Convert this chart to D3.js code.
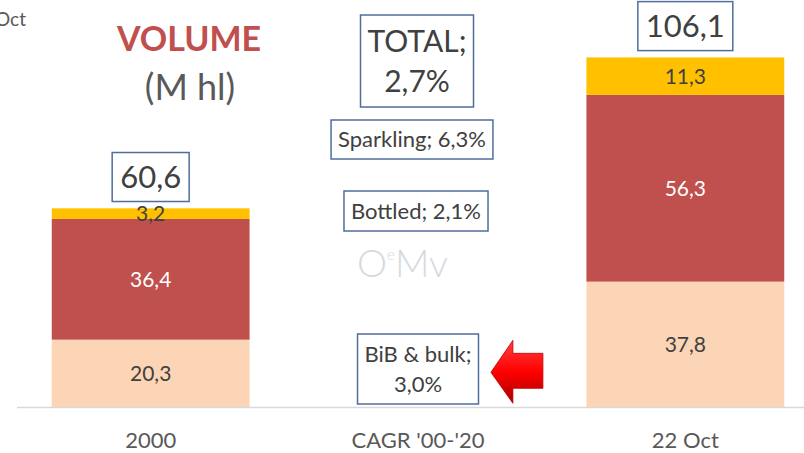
<!DOCTYPE html>
<html>
<head>
<meta charset="utf-8">
<script src="https://cdn.jsdelivr.net/npm/d3@7"></script>
<style>
  body { margin: 0; background: #fff; }
  svg { font-family: Lato, "Open Sans", sans-serif; display: block; }
  .x-axis path { stroke: #d9d9d9; stroke-width: 1.5; }
  .x-axis text { font-size: 22px; fill: #595959; font-family: Lato, sans-serif; }
</style>
</head>
<body>
<div id="chart"></div>
<script>
// values
const categories = ["2000", "CAGR '00-'20", "22 Oct"];
const bulk = [20.3, null, 37.8];       // BiB & bulk
const bottled = [36.4, null, 56.3];
const sparkling = [3.2, null, 11.3];
const totals = [60.6, null, 106.1];
const totalLabels = ["60,6", "", "106,1"];
const segLabels = {
  bulk: ["20,3", "", "37,8"],
  bottled: ["36,4", "", "56,3"],
  sparkling: ["3,2", "", "11,3"]
};
const cagrTotal = ["TOTAL;", "2,7%"];
const cagrSparkling = "Sparkling; 6,3%";
const cagrBottled = "Bottled; 2,1%";
const cagrBulk = ["BiB & bulk;", "3,0%"];

const width = 804, height = 453;
const colors = { bulk: "#fbd5b5", bottled: "#c0504d", sparkling: "#ffc000" };
const labelColors = { bulk: "#404040", bottled: "#ffffff", sparkling: "#404040" };

const svg = d3.select("#chart").append("svg")
    .attr("width", width)
    .attr("height", height)
    .attr("viewBox", [0, 0, width, height]);

const x = d3.scaleBand()
    .domain(categories)
    .range([17, 819])
    .paddingInner(0.26)
    .paddingOuter(0.13);

const y = d3.scaleLinear()
    .domain([0, 120])
    .range([407, 9]);

// build rows for stacking (middle category is empty)
const keys = ["bulk", "bottled", "sparkling"];
const rows = categories.map((c, i) => ({
  cat: c, i: i,
  bulk: bulk[i] || 0, bottled: bottled[i] || 0, sparkling: sparkling[i] || 0
}));
const series = d3.stack().keys(keys)(rows);

svg.append("g")
  .selectAll("g")
  .data(series)
  .join("g")
    .attr("fill", d => colors[d.key])
  .selectAll("rect")
  .data(d => d.filter(p => p[1] > p[0]))
  .join("rect")
    .attr("x", d => x(d.data.cat))
    .attr("y", d => y(d[1]))
    .attr("width", x.bandwidth())
    .attr("height", d => y(d[0]) - y(d[1]));

// segment labels
series.forEach(s => {
  svg.append("g")
    .selectAll("text")
    .data(s.filter(p => p[1] > p[0]))
    .join("text")
      .attr("x", d => x(d.data.cat) + x.bandwidth() / 2)
      .attr("y", d => (y(d[0]) + y(d[1])) / 2)
      .attr("dy", "0.35em")
      .attr("text-anchor", "middle")
      .attr("font-size", 21)
      .attr("fill", labelColors[s.key])
      .text(d => segLabels[s.key][d.data.i]);
});

svg.append("g")
  .attr("class", "x-axis")
  .attr("transform", `translate(0,${y(0)})`)
  .call(d3.axisBottom(x).tickSize(0).tickPadding(25))
  .call(g => g.select(".domain").attr("d", `M17,0.5H${width}`));

// boxed text helper: lines centered at (cx, cy)
function boxed(lines, cx, cy, size, lineH, padX, padY) {
  const g = svg.append("g");
  const t = g.append("text")
      .attr("text-anchor", "middle")
      .attr("font-size", size)
      .attr("fill", "#404040");
  const n = lines.length;
  lines.forEach((l, k) => {
    t.append("tspan")
      .attr("x", cx)
      .attr("y", cy + (k - (n - 1) / 2) * lineH)
      .attr("dy", "0.35em")
      .text(l);
  });
  const b = t.node().getBBox();
  g.insert("rect", "text")
      .attr("x", b.x - padX)
      .attr("y", cy - (n * lineH) / 2 - padY)
      .attr("width", b.width + padX * 2)
      .attr("height", n * lineH + padY * 2)
      .attr("fill", "#fff")
      .attr("stroke", "#4f6e9c")
      .attr("stroke-width", 1.5);
  return g;
}

// totals above bars
totals.forEach((v, i) => {
  if (v == null) return;
  boxed([totalLabels[i]], x(categories[i]) + x.bandwidth() / 2, y(v) - 29, 31, 37, 8, 6);
});

// CAGR annotations in the middle column
const mid = x(categories[1]) + x.bandwidth() / 2;
boxed(cagrTotal, mid - 1, 61, 30, 40, 7, 6);
boxed([cagrSparkling], mid - 6, 139.5, 22, 27, 7, 6);
boxed([cagrBottled], mid - 2, 211, 22, 28, 7, 6);
boxed(cagrBulk, mid - 0, 369, 22, 30, 7, 5);

// watermark
const wm = svg.append("text")
    .attr("x", mid - 61)
    .attr("y", 277)
    .attr("font-size", 38)
    .attr("font-weight", 300)
    .attr("fill", "#d6d9df");
wm.append("tspan").text("O");
wm.append("tspan").attr("font-size", 15).attr("dy", -17).text("e");
wm.append("tspan").attr("dy", 17).text("Mv");

// red arrow pointing at the bulk CAGR box
const grad = svg.append("defs").append("linearGradient")
    .attr("id", "arrowGrad")
    .attr("x1", 0).attr("y1", 0).attr("x2", 0).attr("y2", 1);
grad.append("stop").attr("offset", "0%").attr("stop-color", "#ff4040");
grad.append("stop").attr("offset", "50%").attr("stop-color", "#ff0000");
grad.append("stop").attr("offset", "100%").attr("stop-color", "#a80000");

const ay = (y(0) + y(bulk[0])) / 2 - 1;
const ax = x(categories[1]) + x.bandwidth() - 4;
const arrow = d3.path();
arrow.moveTo(ax - 22, ay);
arrow.lineTo(ax, ay - 32);
arrow.lineTo(ax, ay - 19);
arrow.lineTo(ax + 30, ay - 19);
arrow.lineTo(ax + 30, ay + 16);
arrow.lineTo(ax, ay + 16);
arrow.lineTo(ax, ay + 31);
arrow.closePath();
svg.append("path")
    .attr("d", arrow.toString())
    .attr("fill", "url(#arrowGrad)")
    .attr("stroke", "#c00000")
    .attr("stroke-width", 0.8);

// titles
svg.append("text")
    .attr("x", 189)
    .attr("y", 51)
    .attr("text-anchor", "middle")
    .attr("font-size", 34)
    .attr("font-weight", "bold")
    .attr("fill", "#c0504d")
    .text("VOLUME");

svg.append("text")
    .attr("x", 190)
    .attr("y", 100)
    .attr("text-anchor", "middle")
    .attr("font-size", 36)
    .attr("fill", "#595959")
    .text("(M hl)");

svg.append("text")
    .attr("x", -5)
    .attr("y", 26)
    .attr("font-size", 19)
    .attr("fill", "#595959")
    .text("Oct");
</script>
</body>
</html>
